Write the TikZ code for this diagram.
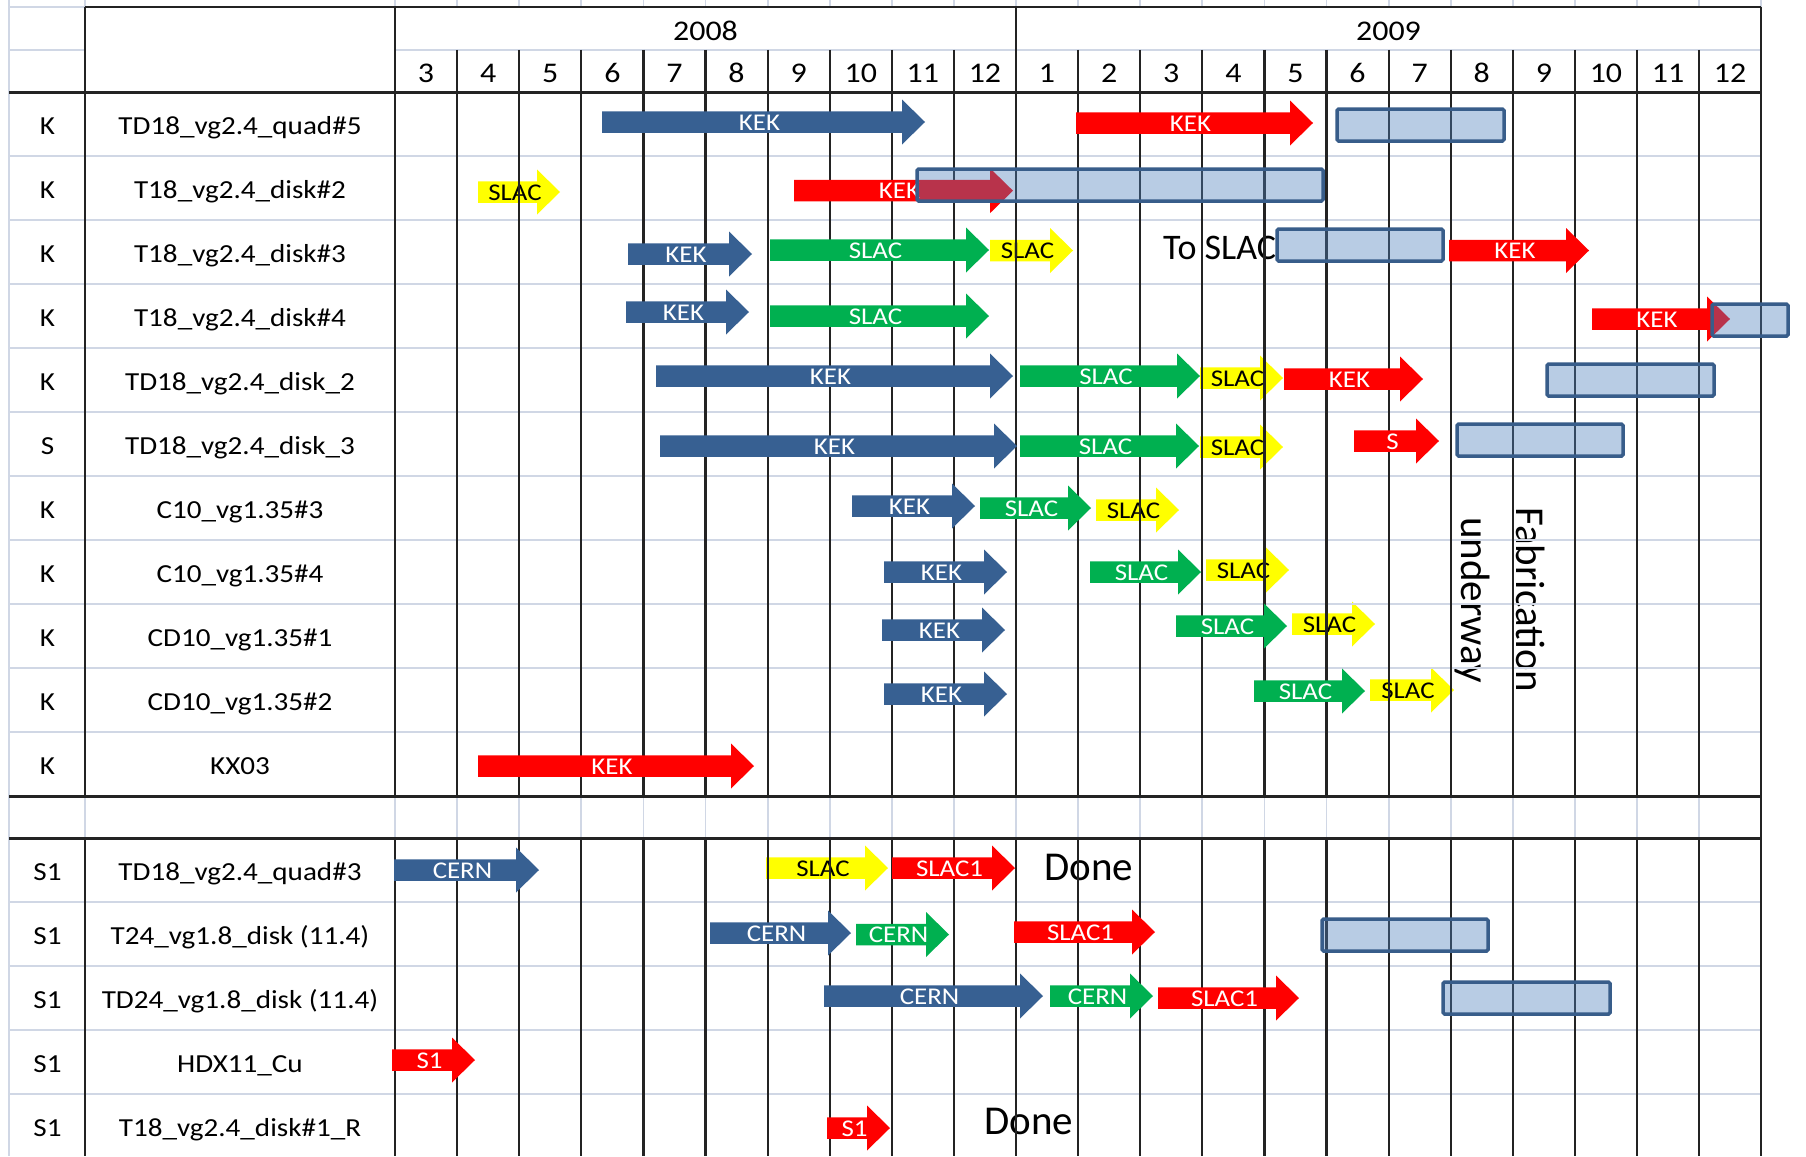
\documentclass[tikz,border=0pt]{standalone}
\usepackage{fontspec}
\setmainfont{Carlito}
\newfontfamily\cellfont[FakeStretch=1.12]{Carlito}
\definecolor{arrblue}{RGB}{55,96,146}
\definecolor{arrgreen}{RGB}{0,176,80}
\definecolor{arrred}{RGB}{255,0,0}
\definecolor{arryellow}{RGB}{255,255,0}
\definecolor{boxline}{RGB}{56,93,138}
\definecolor{boxfill}{RGB}{79,129,189}
\definecolor{gridlight}{RGB}{208,215,229}
\definecolor{gridblack}{RGB}{35,35,35}
\tikzset{
  lightline/.style={draw=gridlight,line width=1.8pt},
  blackline/.style={draw=gridblack,line width=2.2pt},
  thickline/.style={draw=gridblack,line width=3pt},
  arrlabel/.style={font=\cellfont\fontsize{24}{26}\selectfont,inner sep=0pt,anchor=base},
  celltext/.style={font=\cellfont\fontsize{26}{30}\selectfont,inner sep=0pt,anchor=base},
  hdrtext/.style={font=\cellfont\fontsize{28.5}{32}\selectfont,inner sep=0pt,anchor=base},
  notetext/.style={inner sep=0pt,anchor=base west},
  planbox/.style={draw=boxline,line width=3.5pt,fill=boxfill,fill opacity=0.4,rounded corners=1.5pt}
}
% #1 name, #2 left x, #3 tip x, #4 centre y, #5 fill, #6 text colour, #7 label
\newcommand\garr[7]{%
  \fill[#5] ({#2},{#4-10.75}) -- ({#3-23},{#4-10.75}) -- ({#3-23},{#4-22.5}) -- ({#3},{#4})
     -- ({#3-23},{#4+22.5}) -- ({#3-23},{#4+10.75}) -- ({#2},{#4+10.75}) -- cycle;
  \node[arrlabel,text=#6] (#1) at ({(#2+#3)/2-4},{#4+8}) {#7};}
\newcommand\gbox[4]{\draw[planbox] ({#1},{#3}) rectangle ({#2},{#4});}
\begin{document}
\begin{tikzpicture}[x=1pt,y=-1pt]
\useasboundingbox (0,0) rectangle (1806,1156);
\fill[white] (0,0) rectangle (1806,1156);

% ---------- items that lie under the grid ----------
\node[notetext,font=\fontsize{36}{40}\selectfont] (toslac) at (1163,259) {To SLAC};
\node[notetext,font=\fontsize{41}{45}\selectfont] (done1) at (1044,880) {Done};
\node[notetext,font=\fontsize{41}{45}\selectfont] (done2) at (984,1134) {Done};
\node[rotate=-90,align=center,inner sep=0pt,font=\fontsize{41}{55}\selectfont] (fab) at (1500,600) {Fabrication\\underway};
\garr{y1}{478}{560}{192}{arryellow}{black}{SLAC}
\garr{y2}{990}{1073}{250.5}{arryellow}{black}{SLAC}
\garr{y3}{1200}{1283}{378}{arryellow}{black}{SLAC}
\garr{y4}{1200}{1283}{447}{arryellow}{black}{SLAC}
\garr{y5}{1096}{1179}{510}{arryellow}{black}{SLAC}
\garr{y6}{1206}{1289}{570}{arryellow}{black}{SLAC}
\garr{y7}{1292}{1375}{624}{arryellow}{black}{SLAC}
\garr{y8}{1370}{1454}{690}{arryellow}{black}{SLAC}
\garr{y9}{766}{888}{868}{arryellow}{black}{SLAC}

% ---------- light spreadsheet grid ----------
\draw[lightline] (9,0) -- (9,1156);
\draw[lightline] (85,0) -- (85,7) (85,796) -- (85,838);
\foreach \k in {0,...,22}{
  \draw[lightline] ({395+62.1*\k},0) -- ({395+62.1*\k},7);
  \draw[lightline] ({395+62.1*\k},796) -- ({395+62.1*\k},838);
}
\draw[lightline] (9,7) -- (85,7) (9,50) -- (85,50) (395,50) -- (1761,50);
\foreach \r in {1,...,10}{\draw[lightline] (9,{92+64*\r}) -- (1761,{92+64*\r});}
\foreach \yy in {902,966,1030,1094}{\draw[lightline] (9,\yy) -- (1761,\yy);}

% ---------- black table lines ----------
\draw[blackline] (85,7) -- (1761,7);
\draw[thickline] (9,92) -- (1761,92) (9,796) -- (1761,796) (9,838) -- (1761,838);
\foreach \xx in {85,395,1016}{\draw[blackline] (\xx,7) -- (\xx,796) (\xx,838) -- (\xx,1156);}
\draw[blackline] (1761,7) -- (1761,1156);
\foreach \k in {1,...,9,11,12,...,21}{
  \draw[blackline] ({395+62.1*\k},50) -- ({395+62.1*\k},796) ({395+62.1*\k},838) -- ({395+62.1*\k},1156);
}

% ---------- header ----------
\node[hdrtext] (y2008) at (705.5,41) {2008};
\node[hdrtext] (y2009) at (1388.5,41) {2009};
\foreach \m [count=\k from 0] in {3,4,5,6,7,8,9,10,11,12,1,2,3,4,5,6,7,8,9,10,11,12}{
  \node[hdrtext] (mon\k) at ({395+62.1*(\k+0.5)},82) {\m};
}

% ---------- row labels ----------
\foreach \c/\n [count=\i from 0] in {
  K/TD18\_vg2.4\_quad\#5, K/T18\_vg2.4\_disk\#2, K/T18\_vg2.4\_disk\#3, K/T18\_vg2.4\_disk\#4,
  K/TD18\_vg2.4\_disk\_2, S/TD18\_vg2.4\_disk\_3, K/C10\_vg1.35\#3, K/C10\_vg1.35\#4,
  K/CD10\_vg1.35\#1, K/CD10\_vg1.35\#2, K/KX03}{
  \node[celltext] (code\i) at (47.5,{124+64*\i+10}) {\c};
  \node[celltext] (name\i) at (240,{124+64*\i+10}) {\n};
}
\foreach \c/\n [count=\i from 0] in {
  S1/TD18\_vg2.4\_quad\#3, S1/T24\_vg1.8\_disk (11.4), S1/TD24\_vg1.8\_disk (11.4),
  S1/HDX11\_Cu, S1/T18\_vg2.4\_disk\#1\_R}{
  \node[celltext] (lcode\i) at (47.5,{870+64*\i+10}) {\c};
  \node[celltext] (lname\i) at (240,{870+64*\i+10}) {\n};
}

% ---------- opaque arrows ----------
\garr{a1}{602}{925}{122}{arrblue}{white}{KEK}
\garr{a2}{1076}{1313}{123}{arrred}{white}{KEK}
\garr{a4}{794}{1013}{190.7}{arrred}{white}{KEK}
\garr{a5}{628}{752}{254}{arrblue}{white}{KEK}
\garr{a6}{770}{989}{250}{arrgreen}{white}{SLAC}
\garr{a8}{1449}{1589}{250.5}{arrred}{white}{KEK}
\garr{a9}{626}{749}{312}{arrblue}{white}{KEK}
\garr{a10}{770}{989}{316}{arrgreen}{white}{SLAC}
\garr{a11}{1592}{1730}{319}{arrred}{white}{KEK}
\garr{a12}{656}{1013}{376}{arrblue}{white}{KEK}
\garr{a13}{1020}{1200}{376}{arrgreen}{white}{SLAC}
\garr{a15}{1284}{1423}{379}{arrred}{white}{KEK}
\garr{a16}{660}{1017}{446}{arrblue}{white}{KEK}
\garr{a17}{1020}{1199}{446}{arrgreen}{white}{SLAC}
\garr{a19}{1354}{1439}{441}{arrred}{white}{S}
\garr{a20}{852}{975}{506}{arrblue}{white}{KEK}
\garr{a21}{980}{1091}{508}{arrgreen}{white}{SLAC}
\garr{a23}{884}{1007}{572}{arrblue}{white}{KEK}
\garr{a24}{1090}{1201}{572}{arrgreen}{white}{SLAC}
\garr{a26}{882}{1005}{630}{arrblue}{white}{KEK}
\garr{a27}{1176}{1287}{626}{arrgreen}{white}{SLAC}
\garr{a29}{884}{1007}{694}{arrblue}{white}{KEK}
\garr{a30}{1254}{1365}{691}{arrgreen}{white}{SLAC}
\garr{a32}{478}{754}{766}{arrred}{white}{KEK}
\garr{a33}{394}{539}{870}{arrblue}{white}{CERN}
\garr{a35}{892}{1015}{868}{arrred}{white}{SLAC1}
\garr{a36}{710}{851}{933}{arrblue}{white}{CERN}
\garr{a37}{856}{949}{934.5}{arrgreen}{white}{CERN}
\garr{a38}{1014}{1155}{932}{arrred}{white}{SLAC1}
\garr{a39}{824}{1043}{996}{arrblue}{white}{CERN}
\garr{a40}{1050}{1153}{996}{arrgreen}{white}{CERN}
\garr{a41}{1158}{1299}{998}{arrred}{white}{SLAC1}
\garr{a42}{392}{475}{1060}{arrred}{white}{S1}
\garr{a43}{827}{890}{1128}{arrred}{white}{S1}

% ---------- planned (boxes) ----------
\gbox{1337}{1504}{109}{141}
\gbox{917}{1323}{169}{201}
\gbox{1277}{1443}{229}{261}
\gbox{1712}{1788}{304}{336}
\gbox{1547}{1714}{364}{396}
\gbox{1457}{1623}{424}{456}
\gbox{1322}{1488}{919}{951}
\gbox{1443}{1610}{982}{1014}
\end{tikzpicture}
\end{document}
